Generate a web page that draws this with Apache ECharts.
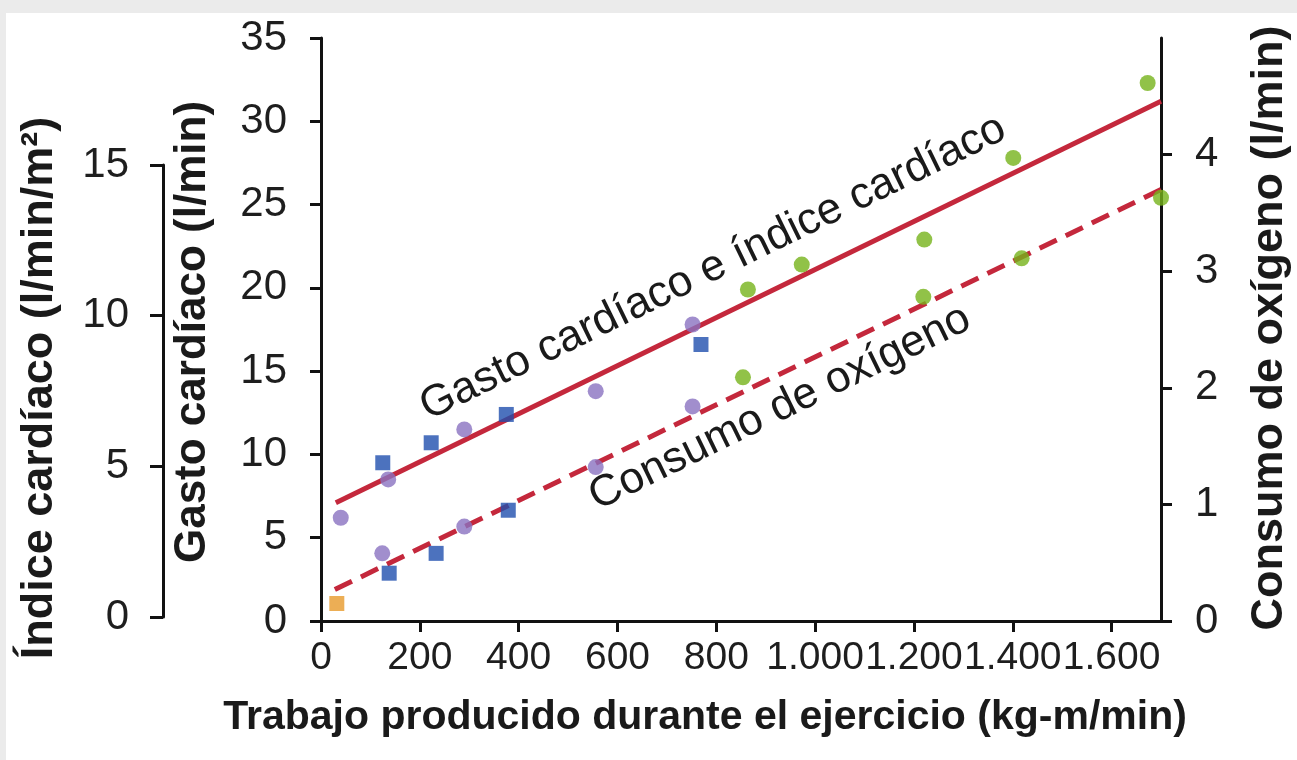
<!DOCTYPE html>
<html><head><meta charset="utf-8">
<script src="https://cdn.jsdelivr.net/npm/echarts@6/dist/echarts.min.js"></script>
<style>html,body{margin:0;padding:0;background:#fff;}#c{width:1297px;height:760px;}</style>
</head><body><div id="c"></div>
<script>
// ---- data ----
const xTicks = [0, 200, 400, 600, 800, 1000, 1200, 1400, 1600];
const cardiacTicks = [0, 5, 10, 15, 20, 25, 30, 35];
const indexTicks = [0, 5, 10, 15];
const o2Ticks = [0, 1, 2, 3, 4];

const cardiacBlue = [[125, 9.5], [223, 10.7], [375, 12.4], [769, 16.6]];
const cardiacPurple = [[40, 6.2], [136, 8.5], [290, 11.5], [556, 13.8], [752, 17.8]];
const cardiacGreen = [[864, 19.9], [973, 21.4], [1221, 22.9], [1401, 27.8], [1673, 32.3]];
const o2Orange = [[32, 0.15]];
const o2Blue = [[138, 0.41], [233, 0.58], [379, 0.95]];
const o2Purple = [[124, 0.58], [290, 0.81], [556, 1.32], [752, 1.84]];
const o2Green = [[854, 2.09], [1219, 2.78], [1418, 3.11], [1700, 3.63]];
const cardiacFit = [[30, 7.1], [1700, 31.2]];
const o2Fit = [[28, 0.27], [1700, 3.70]];

const FONT = '"Liberation Sans", Arial, Helvetica, sans-serif';
const AX = '#111';
const RED = '#c4283c';
const BLUE = '#1f4fae';
const PURPLE = '#8a72c0';
const GREEN = '#76b31a';
const ORANGE = '#e79a2a';

function fmtX(v) {
  if (xTicks.indexOf(v) < 0) return '';
  return v >= 1000 ? String(v).replace(/(\d)(\d{3})$/, '$1.$2') : String(v);
}
function onlyIn(list) { return v => list.indexOf(v) < 0 ? '' : String(v); }

function axisBase(extra) {
  return Object.assign({
    type: 'value',
    splitLine: { show: false },
    axisLine: { show: true, lineStyle: { color: AX, width: 3 } },
    axisTick: { show: true, inside: false, length: 11, lineStyle: { color: AX, width: 3 } }
  }, extra);
}
function lbl(extra) {
  return Object.assign({ color: '#1e1e1e', fontSize: 42, fontFamily: FONT, margin: 34, showMinLabel: true, showMaxLabel: true, hideOverlap: false }, extra);
}

const chart = echarts.init(document.getElementById('c'));
const option = {
  animation: false,
  backgroundColor: '#ffffff',
  grid: [
    { left: 321, right: 136, top: 38, bottom: 139 },
    { left: 163, top: 165, width: 10, height: 452 }
  ],
  xAxis: [
    axisBase({
      gridIndex: 0, min: 0, max: 1700, interval: 200,
      axisTick: { show: true, inside: false, length: 11, lineStyle: { color: AX, width: 3 }, customValues: xTicks },
      axisLabel: lbl({ fontSize: 39, margin: 18, customValues: xTicks, formatter: fmtX })
    }),
    { type: 'value', gridIndex: 1, show: false, min: 0, max: 1 }
  ],
  yAxis: [
    axisBase({ gridIndex: 0, position: 'left', min: 0, max: 35, interval: 5,
      axisLabel: lbl({ formatter: onlyIn(cardiacTicks) }) }),
    axisBase({ gridIndex: 0, position: 'right', min: 0, max: 5, interval: 1,
      axisTick: { show: true, inside: false, length: 11, lineStyle: { color: AX, width: 3 }, customValues: o2Ticks },
      axisLabel: lbl({ customValues: o2Ticks, formatter: onlyIn(o2Ticks) }) }),
    axisBase({ gridIndex: 1, position: 'left', min: 0, max: 15, interval: 5,
      axisTick: { show: true, inside: false, length: 13, lineStyle: { color: AX, width: 3 } },
      axisLabel: lbl({ formatter: onlyIn(indexTicks) }) })
  ],
  series: [
    { type: 'line', name: 'Gasto cardíaco e índice cardíaco', xAxisIndex: 0, yAxisIndex: 0, data: cardiacFit,
      showSymbol: false, symbol: 'none', z: 2, lineStyle: { color: RED, width: 5, type: 'solid' } },
    { type: 'line', name: 'Consumo de oxígeno', xAxisIndex: 0, yAxisIndex: 1, data: o2Fit,
      showSymbol: false, symbol: 'none', z: 2, lineStyle: { color: RED, width: 5, type: [19, 10] } },
    { type: 'scatter', xAxisIndex: 0, yAxisIndex: 0, data: cardiacPurple, symbol: 'circle', symbolSize: 16, z: 3, itemStyle: { color: PURPLE } },
    { type: 'scatter', xAxisIndex: 0, yAxisIndex: 0, data: cardiacBlue, symbol: 'rect', symbolSize: 15, z: 4, itemStyle: { color: BLUE } },
    { type: 'scatter', xAxisIndex: 0, yAxisIndex: 0, data: cardiacGreen, symbol: 'circle', symbolSize: 16, z: 3, itemStyle: { color: GREEN } },
    { type: 'scatter', xAxisIndex: 0, yAxisIndex: 1, data: o2Purple, symbol: 'circle', symbolSize: 16, z: 3, itemStyle: { color: PURPLE } },
    { type: 'scatter', xAxisIndex: 0, yAxisIndex: 1, data: o2Blue, symbol: 'rect', symbolSize: 15, z: 4, itemStyle: { color: BLUE } },
    { type: 'scatter', xAxisIndex: 0, yAxisIndex: 1, data: o2Green, symbol: 'circle', symbolSize: 16, z: 3, itemStyle: { color: GREEN } },
    { type: 'scatter', xAxisIndex: 0, yAxisIndex: 1, data: o2Orange, symbol: 'rect', symbolSize: 15, z: 3, itemStyle: { color: ORANGE } }
  ],
  graphic: [
    { type: 'rect', z: -10, shape: { x: 0, y: 0, width: 1297, height: 13 }, style: { fill: '#ebebeb' } },
    { type: 'rect', z: -10, shape: { x: 0, y: 0, width: 6, height: 760 }, style: { fill: '#ebebeb' } },
    { type: 'text', x: 713, y: 268, rotation: 26 * Math.PI / 180, z: 10,
      style: { text: 'Gasto cardíaco e índice cardíaco', font: '44px ' + FONT, fill: '#1a1a1a', textAlign: 'center', textVerticalAlign: 'middle' } },
    { type: 'text', x: 780, y: 408, rotation: 26 * Math.PI / 180, z: 10,
      style: { text: 'Consumo de oxígeno', font: '44px ' + FONT, fill: '#1a1a1a', textAlign: 'center', textVerticalAlign: 'middle' } },
    { type: 'text', x: 40, y: 388, rotation: Math.PI / 2, z: 10,
      style: { text: 'Índice cardíaco (l/min/m²)', font: 'bold 45px ' + FONT, fill: '#1a1a1a', textAlign: 'center', textVerticalAlign: 'middle' } },
    { type: 'text', x: 193, y: 332, rotation: Math.PI / 2, z: 10,
      style: { text: 'Gasto cardíaco (l/min)', font: 'bold 44px ' + FONT, fill: '#1a1a1a', textAlign: 'center', textVerticalAlign: 'middle' } },
    { type: 'text', x: 1270, y: 328, rotation: Math.PI / 2, z: 10,
      style: { text: 'Consumo de oxígeno (l/min)', font: 'bold 45px ' + FONT, fill: '#1a1a1a', textAlign: 'center', textVerticalAlign: 'middle' } },
    { type: 'text', x: 705, y: 718, z: 10,
      style: { text: 'Trabajo producido durante el ejercicio (kg-m/min)', font: 'bold 41px ' + FONT, fill: '#1a1a1a', textAlign: 'center', textVerticalAlign: 'middle' } }
  ]
};
chart.setOption(option);
</script>
</body></html>
